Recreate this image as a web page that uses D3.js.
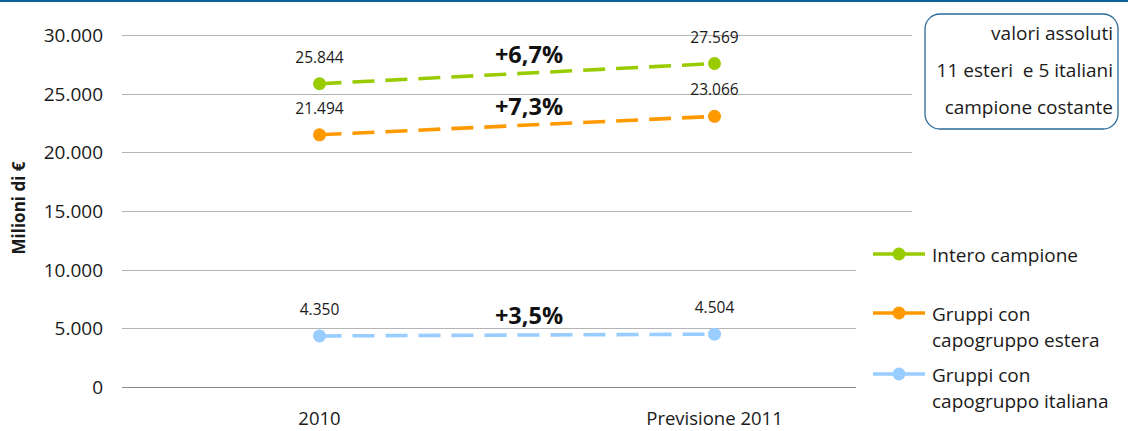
<!DOCTYPE html>
<html>
<head>
<meta charset="utf-8">
<script src="https://cdn.jsdelivr.net/npm/d3@7"></script>
<style>
  body { margin: 0; background: #fff; }
  svg { display: block; font-family: "Open Sans", sans-serif; }
</style>
</head>
<body>
<div id="chart"></div>
<script>
// data
var categories = ["2010", "Previsione 2011"]
var seriesNames = ["Intero campione", "Gruppi con capogruppo estera", "Gruppi con capogruppo italiana"]
var legendLines = [["Intero campione"], ["Gruppi con", "capogruppo estera"], ["Gruppi con", "capogruppo italiana"]]
var interoCampione = [25844, 27569]
var capogruppoEstera = [21494, 23066]
var capogruppoItaliana = [4350, 4504]
var seriesColors = ["#99cc00", "#ff9900", "#99ccff"]
var yTicks = [0, 5000, 10000, 15000, 20000, 25000, 30000]
var noteLines = ["valori assoluti", "11 esteri  e 5 italiani", "campione costante"]

var series = [interoCampione, capogruppoEstera, capogruppoItaliana]

var width = 1128, height = 431
var svg = d3.select("#chart").append("svg")
  .attr("width", width)
  .attr("height", height)

// top bar
svg.append("rect").attr("x", 0).attr("y", 0).attr("width", width).attr("height", 2).attr("fill", "#0b6194")

var x = d3.scalePoint().domain(categories).range([122, 912]).padding(0.5)
var y = d3.scaleLinear().domain([0, 30000]).range([387, 35])

var itFmt = d3.formatLocale({decimal: ",", thousands: ".", grouping: [3], currency: ["", "€"]})
var numFmt = itFmt.format(",")
var pctFmt = itFmt.format("+.1%")

// gridlines
svg.append("g").selectAll("line")
  .data(yTicks).enter().append("line")
  .attr("x1", 122).attr("x2", 912)
  .attr("y1", d => Math.round(y(d)) + 0.5).attr("y2", d => Math.round(y(d)) + 0.5)
  .attr("stroke", d => d === 0 ? "#8c8c8c" : "#b4b4b4")
  .attr("stroke-width", 1.2)

// y tick labels
svg.append("g").selectAll("text")
  .data(yTicks).enter().append("text")
  .attr("x", 103).attr("y", d => y(d) + 7)
  .attr("text-anchor", "end")
  .attr("font-size", 19)
  .attr("fill", "#1a1a1a")
  .text(d => numFmt(d))

// x labels
svg.append("g").selectAll("text")
  .data(categories).enter().append("text")
  .attr("x", d => x(d)).attr("y", 425)
  .attr("text-anchor", "middle")
  .attr("font-size", 18.5)
  .attr("fill", "#1a1a1a")
  .text(d => d)

// y title
svg.append("text")
  .attr("transform", "translate(25,208) rotate(-90)")
  .attr("text-anchor", "middle")
  .attr("font-size", 17)
  .attr("font-weight", "bold")
  .attr("fill", "#1a1a1a")
  .text("Milioni di €")

var line = d3.line().x((d, i) => x(categories[i])).y(d => y(d))

series.forEach(function(vals, s){
  var g = svg.append("g")
  g.append("path")
    .attr("d", line(vals))
    .attr("fill", "none")
    .attr("stroke", seriesColors[s])
    .attr("stroke-width", 3.6)
    .attr("stroke-dasharray", "22,11")
  g.selectAll("circle").data(vals).enter().append("circle")
    .attr("cx", (d, i) => x(categories[i])).attr("cy", d => y(d))
    .attr("r", 6.5)
    .attr("fill", seriesColors[s])
  g.selectAll("text.val").data(vals).enter().append("text")
    .attr("class", "val")
    .attr("x", (d, i) => x(categories[i])).attr("y", d => y(d) - 21)
    .attr("text-anchor", "middle")
    .attr("font-size", 15.5)
    .attr("fill", "#1a1a1a")
    .text(d => numFmt(d))
  // change label
  var mid = (y(vals[0]) + y(vals[1])) / 2
  g.append("text")
    .attr("x", (x(categories[0]) + x(categories[1])) / 2 + 12)
    .attr("y", mid - 11)
    .attr("text-anchor", "middle")
    .attr("font-size", 23.5)
    .attr("font-weight", "bold")
    .attr("fill", "#111")
    .text(pctFmt(vals[1] / vals[0] - 1))
})

// note box
svg.append("rect")
  .attr("x", 925).attr("y", 14).attr("width", 193).attr("height", 115)
  .attr("rx", 15).attr("ry", 15)
  .attr("fill", "#fff").attr("stroke", "#2a6a98").attr("stroke-width", 1.3)
svg.append("g").selectAll("text")
  .data(noteLines).enter().append("text")
  .attr("x", 1113).attr("y", (d, i) => 40 + i * 37)
  .attr("text-anchor", "end")
  .attr("font-size", 19)
  .attr("fill", "#1a1a1a")
  .style("white-space", "pre")
  .text(d => d)

// legend
svg.append("rect").attr("x", 856).attr("y", 228).attr("width", 272).attr("height", 195).attr("fill", "#fff")
var legendY = [254, 313, 374]
var leg = svg.append("g").selectAll("g")
  .data(seriesNames).enter().append("g")
  .attr("transform", (d, i) => "translate(0," + legendY[i] + ")")
leg.append("line")
  .attr("x1", 873).attr("x2", 925).attr("y1", 0).attr("y2", 0)
  .attr("stroke", (d, i) => seriesColors[i]).attr("stroke-width", 3.6)
  .attr("stroke-dasharray", "20,6,26")
leg.append("circle")
  .attr("cx", 899).attr("cy", 0).attr("r", 6.5)
  .attr("fill", (d, i) => seriesColors[i])
leg.each(function(d, i){
  d3.select(this).selectAll("text").data(legendLines[i]).enter().append("text")
    .attr("x", 932).attr("y", (t, j) => 8 + j * 26)
    .attr("font-size", 19)
    .attr("fill", "#1a1a1a")
    .text(t => t)
})
</script>
</body>
</html>
